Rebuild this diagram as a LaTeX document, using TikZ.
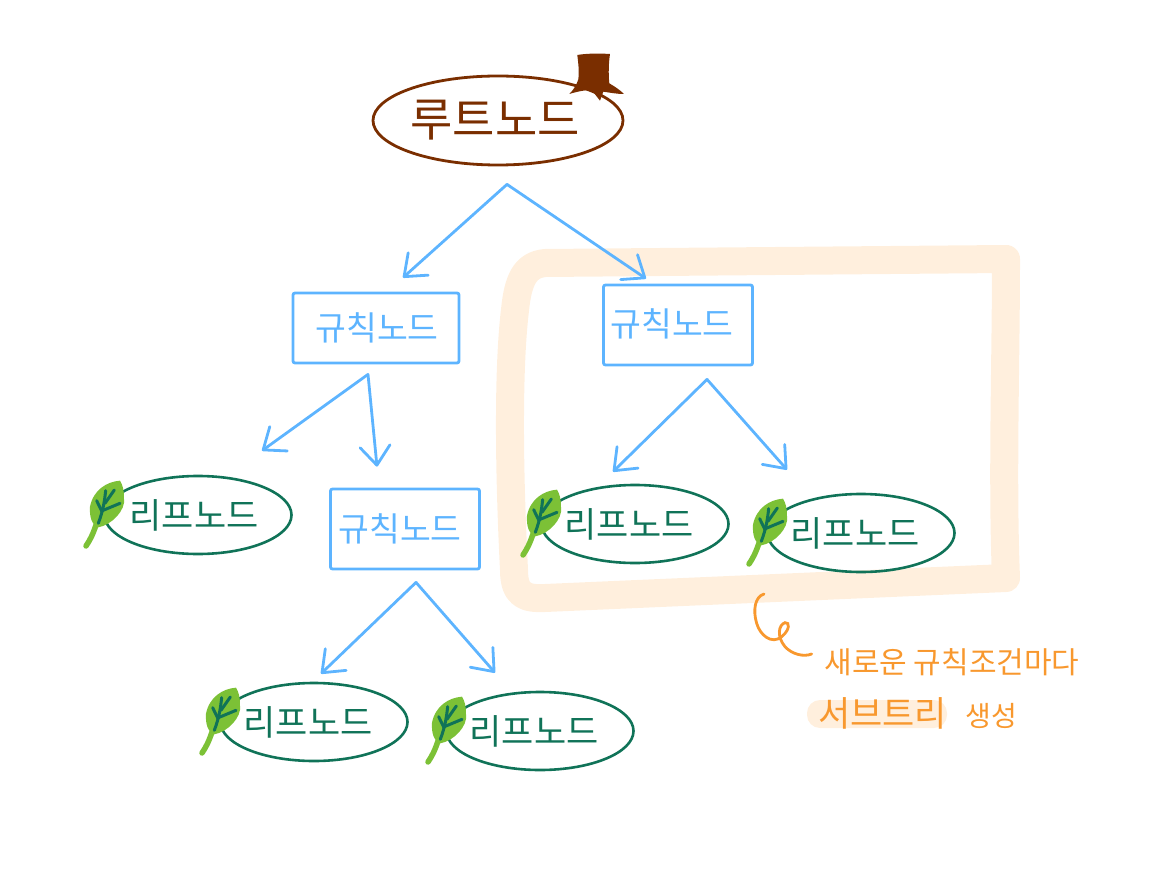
\documentclass[tikz,border=0pt]{standalone}
\usepackage{fontspec}
\usetikzlibrary{shapes.geometric,arrows.meta,calc}
\newfontfamily\krfont{Noto Sans CJK KR}
\definecolor{skyline}{HTML}{5DB4FF}
\definecolor{leafink}{HTML}{107358}
\definecolor{leafgreen}{HTML}{7CC136}
\definecolor{barkbrown}{HTML}{7A2E00}
\definecolor{peach}{HTML}{FFEFDD}
\definecolor{noteorange}{HTML}{F8982E}
\newcommand{\nudged}[3]{\raisebox{#2}{\makebox[100pt]{\kern#1\relax #3}}}
\tikzset{
  rootnode/.style={ellipse,draw=barkbrown,line width=2.8pt,inner sep=0pt,minimum width=250pt,minimum height=89pt,text=barkbrown,font=\krfont\fontsize{46}{46}\selectfont},
  rulenode/.style={rectangle,draw=skyline,line width=2.8pt,rounded corners=2pt,inner sep=0pt,text=skyline,font=\krfont\fontsize{33.5}{33.5}\selectfont},
  leafnode/.style={ellipse,draw=leafink,line width=2.6pt,inner sep=0pt,minimum width=187pt,minimum height=78pt,text=leafink,font=\krfont\fontsize{35}{35}\selectfont},
  conn/.style={draw=skyline,line width=2.8pt,line cap=round,-{Straight Barb[round,length=19pt,width=30pt]}},
  frameline/.style={draw=peach,line width=28pt,line cap=round,line join=round},
  notetext/.style={text=noteorange,inner sep=0pt,font=\krfont},
  curlline/.style={draw=noteorange,line width=2.8pt,line cap=round},
  vein/.style={draw=leafink,line width=3pt,line cap=round}
}
\newcommand{\leafmark}[1]{%
  \begin{scope}[shift={($(#1.center)+(-128,-45)$)},x=0.3333pt,y=-0.3333pt]
    \draw[leafgreen,line width=5.5pt,line cap=round] (78,165) .. controls (68,195) and (60,210) .. (48,228);
    \fill[leafgreen] (150,32) .. controls (110,35) and (70,60) .. (60,110)
      .. controls (58,140) and (65,165) .. (85,172)
      .. controls (125,165) and (168,120) .. (162,85)
      .. controls (162,60) and (158,45) .. (150,32) -- cycle;
    \draw[vein] (107,62) .. controls (104,90) and (100,120) .. (85,160);
    \draw[vein] (80,92) -- (96,125);
    \draw[vein] (97,122) -- (150,100);
    \draw[vein] (133,60) -- (105,100);
  \end{scope}}
\begin{document}
\begin{tikzpicture}[x=1pt,y=-1pt]
\useasboundingbox (0,0) rectangle (1169,890);
% peach frame
\draw[frameline] (1006,259) -- (545,263) .. controls (525,265) and (518,280) .. (515,310)
  .. controls (509,360) and (508,450) .. (514,570) .. controls (514,595) and (525,599) .. (545,598)
  -- (1006,578) .. controls (1002,480) and (1006,360) .. (1006,259) -- cycle;
% nodes
\node[rootnode] (root) at (498,120.5) {\nudged{-6pt}{-1pt}{루트노드}};
\node[rulenode,minimum width=166pt,minimum height=70pt] (rule1) at (376,328) {\nudged{2pt}{0pt}{규칙노드}};
\node[rulenode,minimum width=149pt,minimum height=80pt] (rule2) at (678,325) {\nudged{-12pt}{4pt}{규칙노드}};
\node[rulenode,minimum width=149pt,minimum height=80pt] (rule3) at (405,529) {\nudged{-10pt}{3pt}{규칙노드}};
\node[leafnode] (leaf1) at (198,515) {\nudged{-8pt}{0pt}{리프노드}};
\node[leafnode] (leaf3) at (635,524) {\nudged{-12pt}{0pt}{리프노드}};
\node[leafnode] (leaf4) at (861,533) {\nudged{-12pt}{1pt}{리프노드}};
\node[leafnode] (leaf5) at (314,722) {\nudged{-12pt}{2pt}{리프노드}};
\node[leafnode] (leaf6) at (540,731) {\nudged{-12pt}{2pt}{리프노드}};
% leaves
\leafmark{leaf1}\leafmark{leaf3}\leafmark{leaf4}\leafmark{leaf5}\leafmark{leaf6}
% stump
\begin{scope}[shift={(360,40)},x=0.3333pt,y=-0.3333pt]
  \fill[barkbrown] (652,45) .. controls (680,40) and (720,40) .. (750,42)
    .. controls (746,70) and (745,100) .. (748,130)
    .. controls (765,140) and (780,150) .. (792,162)
    .. controls (770,162) and (750,158) .. (730,155)
    -- (720,182) -- (695,150)
    .. controls (675,150) and (650,155) .. (628,162)
    .. controls (640,150) and (650,135) .. (655,118)
    .. controls (658,95) and (655,70) .. (652,45) -- cycle;
\end{scope}
% connectors
\draw[conn] ($(root.south)+(9,18)$) -- ($(rule1.north)+(27,-14)$);
\draw[conn] ($(root.south)+(9,18)$) -- ($(rule2.north)+(-32,-5)$);
\draw[conn] ($(rule1.south)+(-8,10)$) -- ($(leaf1.north)+(64,-24)$);
\draw[conn] ($(rule1.south)+(-8,10)$) -- ($(rule3.north)+(-28,-21)$);
\draw[conn] ($(rule2.south)+(29,13)$) -- ($(leaf3.north)+(-22,-12)$);
\draw[conn] ($(rule2.south)+(29,13)$) -- ($(leaf4.north)+(-74,-23)$);
\draw[conn] ($(rule3.south)+(11,12)$) -- ($(leaf5.north)+(7,-8)$);
\draw[conn] ($(rule3.south)+(11,12)$) -- ($(leaf6.north)+(-45,-18)$);
% note
\begin{scope}[shift={(740,580)},x=0.3333pt,y=-0.3333pt]
  \draw[curlline] (72,42) .. controls (45,50) and (38,90) .. (50,130)
    .. controls (60,165) and (95,195) .. (125,170)
    .. controls (150,150) and (150,125) .. (135,128)
    .. controls (115,135) and (110,170) .. (135,200)
    .. controls (155,222) and (190,232) .. (215,222);
\end{scope}
\fill[peach,rounded corners=13pt] (807,700) rectangle (947,728);
\node[notetext,anchor=center,font=\krfont\fontsize{30}{30}\selectfont] (notea) at (952,662) {새로운 규칙조건마다};
\node[notetext,anchor=west] (noteb) at (818,713) {{\fontsize{35}{35}\selectfont 서브트리\hspace{16pt}} {\fontsize{28}{28}\selectfont 생성}};
\end{tikzpicture}
\end{document}
